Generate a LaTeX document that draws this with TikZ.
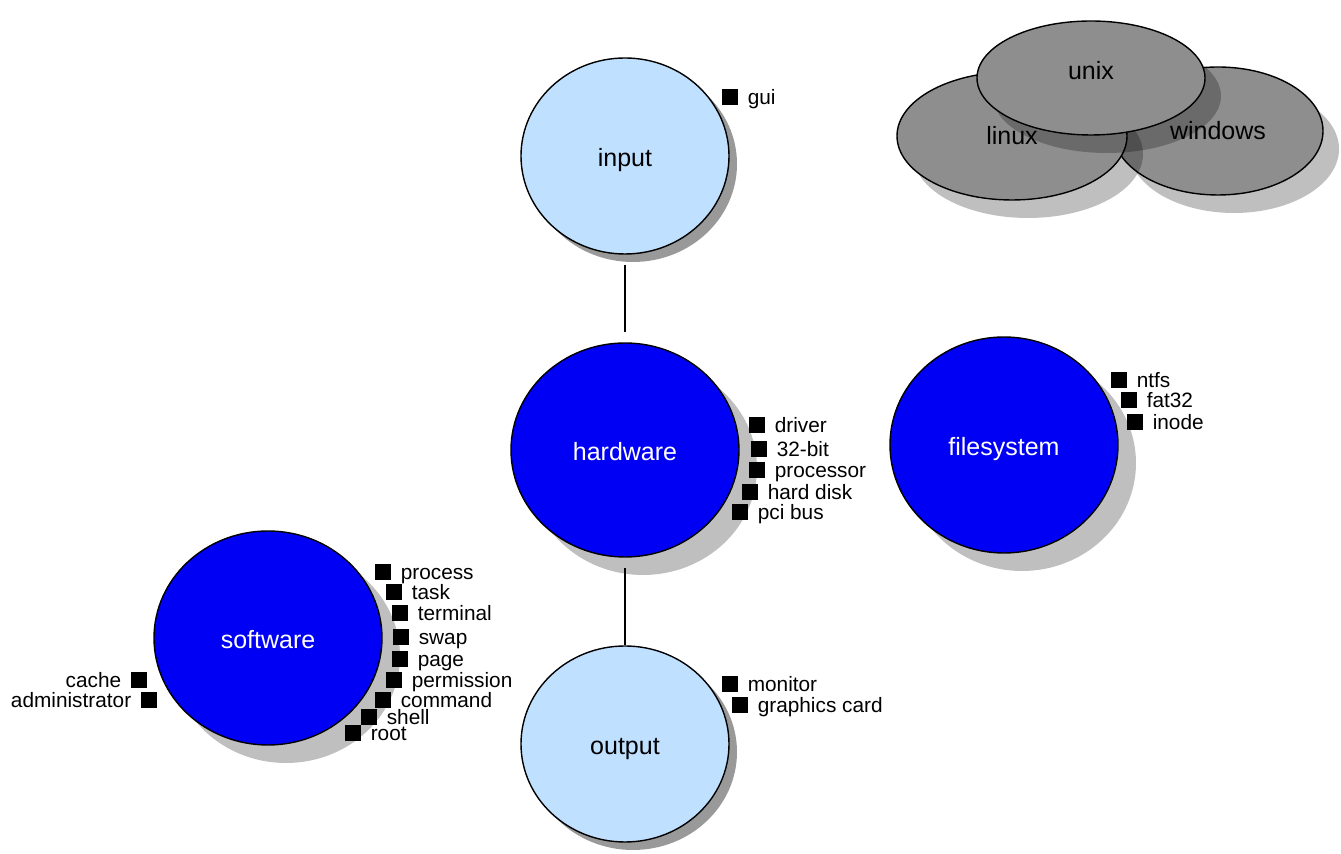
\documentclass[tikz,border=0pt]{standalone}
\usepackage{fontspec}
\setmainfont{Liberation Sans}
\usetikzlibrary{shapes.geometric,shadows,positioning}
\definecolor{lightblue}{RGB}{192,224,255}
\definecolor{deepblue}{RGB}{0,0,245}
\definecolor{osgrey}{RGB}{142,142,142}
\tikzset{topic/.style={ellipse,draw=black,line width=0.7pt,inner sep=0pt,text height=11pt,text depth=0pt,font=\fontsize{12.5}{15}\selectfont},
  major/.style={topic,fill=deepblue,text=white,drop shadow={shadow xshift=9pt,shadow yshift=-9pt,fill=black,opacity=0.25}},
  minor/.style={topic,fill=lightblue,drop shadow={shadow xshift=4pt,shadow yshift=-4pt,fill=black!40,opacity=1}},
  os/.style={topic,fill=osgrey,text height=9pt,drop shadow={shadow xshift=8pt,shadow yshift=-9pt,fill=black,opacity=0.25}},
  tag/.style={rectangle,fill=black,minimum size=8pt,inner sep=0pt},
  tagtext/.style={inner sep=0pt,text height=7.5pt,text depth=0pt,font=\fontsize{10.4}{12}\selectfont},
  link/.style={line width=0.8pt}}

\begin{document}
\begin{tikzpicture}[x=0.5pt,y=-0.5pt]
    \useasboundingbox (0,0) rectangle (1341,854);

    \node [minor, minimum width=104pt, minimum height=98pt] (input) at (625,156) {input};
    \node [major, minimum width=114pt, minimum height=107pt] (hardware) at (625,450) {hardware};
    \node [major, minimum width=114pt, minimum height=108pt] (filesystem) at (1004,445) {filesystem};
    \node [major, minimum width=114pt, minimum height=107pt] (software) at (268,638) {software};
    \node [minor, minimum width=104pt, minimum height=98pt] (output) at (625,744) {output};

    % operating systems
    \node [os, minimum width=105pt, minimum height=64pt] (windows) at (1218,131) {windows};
    \node [os, minimum width=115pt, minimum height=64pt] (linux) at (1012,136) {linux};
    \node [os, text depth=7pt, minimum width=114pt, minimum height=57pt] (unix) at (1091,78) {unix};

    \draw [link, shorten <=5pt, shorten >=5pt] (input) -- (hardware);
    \draw [link, shorten <=5pt] (hardware) -- (output);

    \foreach \x/\y/\word [count=\i] in {730/97/gui}
        {
        \node [tag] (in\i) at (\x,\y) {};
        \node [tagtext, right=4.5pt of in\i] (int\i) {\word};
        }
    \foreach \x/\y/\word [count=\i] in {757/425/driver, 759/449/32-bit, 757/470/processor, 750/492/hard disk, 740/512/pci bus}
        {
        \node [tag] (hw\i) at (\x,\y) {};
        \node [tagtext, right=4.5pt of hw\i] (hwt\i) {\word};
        }
    \foreach \x/\y/\word [count=\i] in {1119/380/ntfs, 1129/400/fat32, 1135/422/inode}
        {
        \node [tag] (fs\i) at (\x,\y) {};
        \node [tagtext, right=4.5pt of fs\i] (fst\i) {\word};
        }
    \foreach \x/\y/\word [count=\i] in {383/572/process, 394/592/task, 400/613/terminal, 401/637/swap, 400/659/page, 394/680/permission, 383/700/command, 369/717/shell, 353/733/root}
        {
        \node [tag] (sw\i) at (\x,\y) {};
        \node [tagtext, right=4.5pt of sw\i] (swt\i) {\word};
        }
    \foreach \x/\y/\word [count=\i] in {139/680/cache, 149/700/administrator}
        {
        \node [tag] (swl\i) at (\x,\y) {};
        \node [tagtext, left=4.5pt of swl\i] (swlt\i) {\word};
        }
    \foreach \x/\y/\word [count=\i] in {730/684/monitor, 740/705/graphics card}
        {
        \node [tag] (out\i) at (\x,\y) {};
        \node [tagtext, right=4.5pt of out\i] (outt\i) {\word};
        }
\end{tikzpicture}
\end{document}
